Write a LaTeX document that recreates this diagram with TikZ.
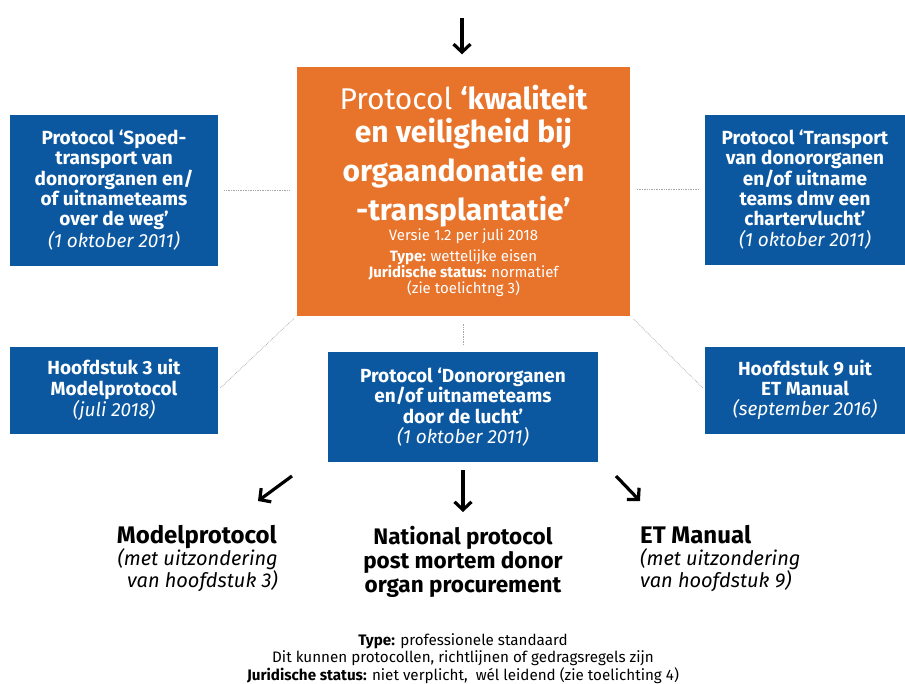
\documentclass[tikz,border=0pt]{standalone}
\usepackage{fontspec}
\setmainfont{Fira Sans}
\usetikzlibrary{arrows.meta}

\definecolor{oranje}{RGB}{232,116,44}
\definecolor{blauw}{RGB}{12,88,160}

\newcommand{\groot}{\fontsize{30}{36}\selectfont}
\newcommand{\klein}{\fontsize{15}{18.5}\selectfont}

\tikzset{
  blauwbox/.style={fill=blauw, text=white, align=center, inner sep=2pt,
    font=\fontsize{19}{20.3}\selectfont\bfseries},
  link/.style={gray!70, densely dotted, line width=0.7pt},
  pijl/.style={-{Straight Barb[length=8pt,width=17pt]}, line width=3.2pt, black},
  kop/.style={inner sep=0pt, font=\fontsize{24}{26}\selectfont\bfseries},
  uitz/.style={inner sep=0pt, font=\fontsize{20}{19}\selectfont\itshape}
}

\begin{document}
\begin{tikzpicture}[x=1pt,y=-1pt]
\useasboundingbox (0,0) rectangle (905,683);

% middelste protocol
\node[fill=oranje, text=white, align=center, minimum width=333pt, minimum height=249pt, inner sep=0pt]
  (kw) at (463.5,191) {%
  \groot\mdseries Protocol \bfseries `kwaliteit\\[7pt]
  \groot\bfseries en veiligheid bij\\[7pt]
  \groot\bfseries orgaandonatie en\\[7pt]
  \groot\bfseries -transplantatie'\\[1pt]
  \klein\mdseries Versie 1.2 per juli 2018\\[5pt]
  \klein\bfseries Type: \mdseries wettelijke eisen\\
  \klein\bfseries Juridische status: \mdseries normatief\\
  \klein\mdseries (zie toelichtng 3)};

% blauwe protocollen
\node[blauwbox, minimum width=208pt, minimum height=151pt] (spoed) at (114,190)
  {Protocol `Spoed-\\ transport van\\ donororganen en/\\ of uitnameteams\\ over de weg'\\ \mdseries\itshape (1 oktober 2011)};
\node[blauwbox, minimum width=208pt, minimum height=87pt] (h3) at (114,390)
  {Hoofdstuk 3 uit\\ Modelprotocol\\ \mdseries\itshape (juli 2018)};
\node[blauwbox, minimum width=200pt, minimum height=150pt] (charter) at (805,189.5)
  {Protocol `Transport\\ van donororganen\\ en/of uitname\\ teams dmv een\\ chartervlucht'\\ \mdseries\itshape (1 oktober 2011)};
\node[blauwbox, minimum width=200pt, minimum height=87pt] (h9) at (805,390)
  {Hoofdstuk 9 uit\\ ET Manual\\ \mdseries\itshape (september 2016)};
\node[blauwbox, minimum width=270pt, minimum height=110pt] (lucht) at (463,407)
  {Protocol `Donororganen\\ en/of uitnameteams\\ door de lucht'\\ \mdseries\itshape (1 oktober 2011)};

% stippellijnen
\draw[link, shorten <=6pt, shorten >=7pt] (spoed.east) -- (kw.west |- spoed.east);
\draw[link, shorten <=6pt, shorten >=6pt] (charter.west) -- (kw.east |- charter.west);
\draw[link, shorten <=3pt, shorten >=4pt] (h3.east) -- (kw.south west);
\draw[link, shorten <=3pt, shorten >=4pt] (h9.west) -- (kw.south east);
\draw[link, shorten <=8pt, shorten >=7pt] (kw.south) -- (kw.south |- lucht.north);

% onderste teksten
\node[kop, anchor=base east] (mp) at (277,543) {Modelprotocol};
\node[uitz, anchor=north east, align=right] (mpuitz) at (278,548)
  {(met uitzondering\\ van hoofdstuk 3)};
\node[anchor=north, align=center, inner sep=0pt, font=\fontsize{22.5}{24}\selectfont\bfseries] (np) at (463,526)
  {National protocol\\ post mortem donor\\ organ procurement};
\node[kop, anchor=base west] (et) at (640,543) {ET Manual};
\node[uitz, anchor=north west, align=left] (etuitz) at (640,548)
  {(met uitzondering\\ van hoofdstuk 9)};
\node[anchor=north, align=center, inner sep=0pt, font=\fontsize{15.2}{17.5}\selectfont] (noot) at (463,633)
  {\textbf{Type:} professionele standaard\\
   Dit kunnen protocollen, richtlijnen of gedragsregels zijn\\
   \textbf{Juridische status:} niet verplicht,\ \ wél leidend (zie toelichting 4)};

% pijlen
\coordinate (boven) at (462,18);
\coordinate (pl1) at (292,476);
\coordinate (pl2) at (258,501);
\coordinate (pr1) at (616,476);
\coordinate (pr2) at (640,501);
\draw[pijl, shorten >=12pt] (boven) -- (boven |- kw.north);
\draw[pijl] (pl1) -- (pl2);
\draw[pijl, shorten <=8pt, shorten >=14pt] (lucht.south) -- (np.north);
\draw[pijl] (pr1) -- (pr2);
\end{tikzpicture}
\end{document}
